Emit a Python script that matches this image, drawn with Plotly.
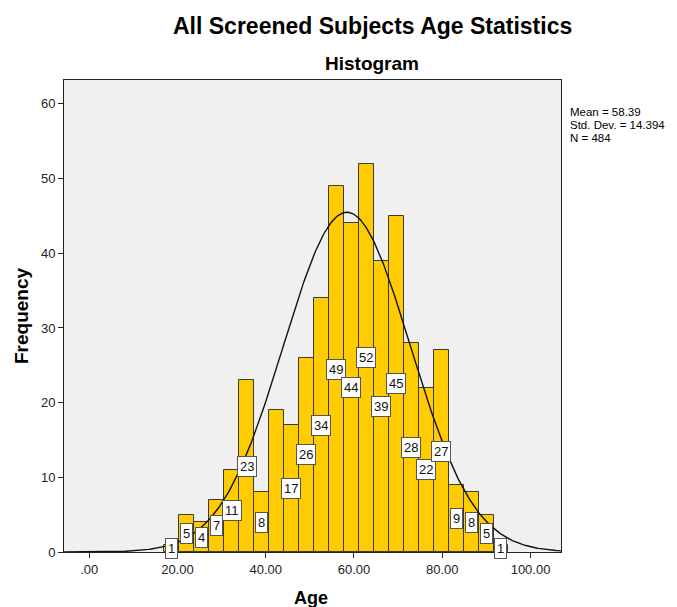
import numpy as np
import plotly.graph_objects as go

# ---- data ----
bin_start = 17.0
bin_end = 95.0
counts = [1, 5, 4, 7, 11, 23, 8, 19, 17, 26, 34, 49, 44, 52, 39, 45, 28, 22, 27, 9, 8, 5, 1]
bar_labels = ["1", "5", "4", "7", "11", "23", "8", "", "17", "26", "34", "49", "44", "52",
              "39", "45", "28", "22", "27", "9", "8", "5", "1"]
mean_age = 58.39
sd_age = 14.394
n_total = 484
x_tick_vals = [0, 20, 40, 60, 80, 100]
x_tick_text = [".00", "20.00", "40.00", "60.00", "80.00", "100.00"]
y_tick_vals = [0, 10, 20, 30, 40, 50, 60]
stats_lines = [f"Mean = {mean_age:.2f}", f"Std. Dev. = {sd_age:.3f}", f"N = {n_total}"]

nb = len(counts)
bw = (bin_end - bin_start) / nb
centers = [bin_start + bw * (i + 0.5) for i in range(nb)]

FONT = "Liberation Sans, Arial, sans-serif"

fig = go.Figure()
fig.add_trace(go.Bar(
    x=centers, y=counts, width=bw,
    marker=dict(color="#FFCC00", line=dict(color="#3a3a3a", width=1)),
    hoverinfo="x+y", showlegend=False,
))

# normal curve from stated mean / sd / N
xs = np.linspace(-5.7, 106.9, 400)
ys = n_total * bw / (sd_age * np.sqrt(2 * np.pi)) * np.exp(-0.5 * ((xs - mean_age) / sd_age) ** 2)
fig.add_trace(go.Scatter(x=xs, y=ys, mode="lines", line=dict(color="#111111", width=1.4),
                         showlegend=False, hoverinfo="skip"))

annotations = []
for c, v, t in zip(centers, counts, bar_labels):
    if not t:
        continue
    annotations.append(dict(
        x=c, y=v / 2, xref="x", yref="y", text=t, showarrow=False,
        font=dict(family=FONT, size=13, color="#111"),
        bgcolor="white", bordercolor="#555", borderwidth=1, borderpad=2,
        xanchor="center", yanchor="middle",
    ))

# stats box lines (13 px spacing)
for i, line in enumerate(stats_lines):
    annotations.append(dict(
        x=1.0135, y=1 - (32 + 13 * i) / 471.7, xref="paper", yref="paper", showarrow=False,
        text=line, align="left", font=dict(family=FONT, size=11.5, color="black"),
        xanchor="left", yanchor="middle",
    ))

annotations += [
    dict(x=0.62, y=1.1145, xref="paper", yref="paper", showarrow=False,
         text="<b>All Screened Subjects Age Statistics</b>",
         font=dict(family=FONT, size=23, color="black"), xanchor="center", yanchor="middle"),
    dict(x=0.62, y=1.035, xref="paper", yref="paper", showarrow=False,
         text="<b>Histogram</b>",
         font=dict(family=FONT, size=19, color="black"), xanchor="center", yanchor="middle"),
    dict(x=-0.0865, y=0.50, xref="paper", yref="paper", showarrow=False, textangle=-90,
         text="<b>Frequency</b>",
         font=dict(family=FONT, size=19, color="black"), xanchor="center", yanchor="middle"),
    dict(x=0.497, y=-0.098, xref="paper", yref="paper", showarrow=False,
         text="<b>Age</b>",
         font=dict(family=FONT, size=18, color="black"), xanchor="center", yanchor="middle"),
]

fig.update_layout(
    width=669, height=599,
    margin=dict(l=56, r=116, t=72, b=55),
    paper_bgcolor="white", plot_bgcolor="#F0F0F0",
    bargap=0, showlegend=False,
    font=dict(family=FONT, size=13, color="#222"),
    annotations=annotations,
    xaxis=dict(range=[-5.7, 106.9], tickvals=x_tick_vals, ticktext=x_tick_text,
               ticks="outside", ticklen=5, tickcolor="#222", showgrid=False, zeroline=False,
               showline=True, linecolor="#222", linewidth=1, mirror=True,
               tickfont=dict(family=FONT, size=13, color="#222")),
    yaxis=dict(range=[0, 63.2], tickvals=y_tick_vals,
               ticks="outside", ticklen=5, tickcolor="#222", showgrid=False, zeroline=False,
               showline=True, linecolor="#222", linewidth=1, mirror=True,
               tickfont=dict(family=FONT, size=13, color="#222")),
)

fig.write_html("out.html")
